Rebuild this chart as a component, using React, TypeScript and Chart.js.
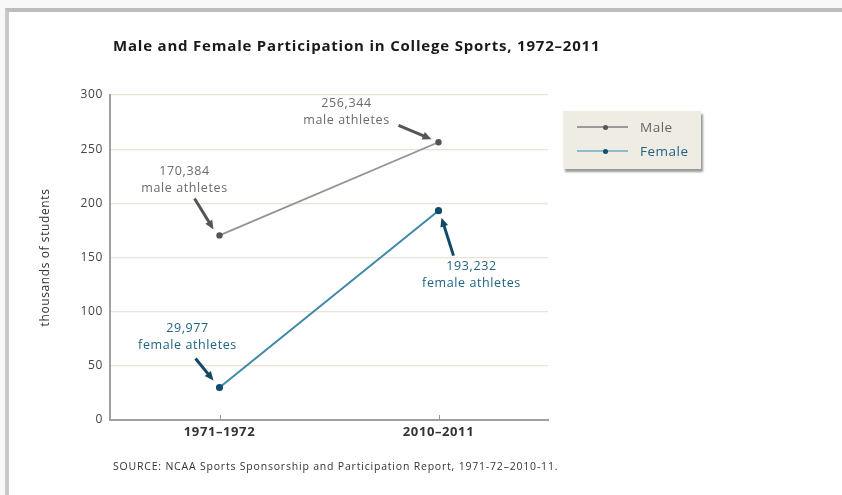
import React, { useEffect, useRef } from "react";
import { Chart, registerables } from "chart.js";
Chart.register(...registerables);

const categories = ["1971–1972", "2010–2011"];
const maleValues = [170.384, 256.344];
const femaleValues = [29.977, 193.232];
const yTicks = [0, 50, 100, 150, 200, 250, 300];
const titleText = "Male and Female Participation in College Sports, 1972–2011";
const sourceText = "SOURCE: NCAA Sports Sponsorship and Participation Report, 1971-72–2010-11.";
const yTitle = "thousands of students";

// annotations: dataset index, point index, label lines, text offset, arrow tail & head offsets
const annotations = [
  { ds: 0, i: 0, lines: ["170,384", "male athletes"], tx: -35, ty: -64, ax: -25, ay: -37, bx: -6, by: -6, color: "#6b6b6b", arrow: "#555" },
  { ds: 0, i: 1, lines: ["256,344", "male athletes"], tx: -92, ty: -39, ax: -40, ay: -17, bx: -7, by: -3, color: "#6b6b6b", arrow: "#555" },
  { ds: 1, i: 0, lines: ["29,977", "female athletes"], tx: -32, ty: -59, ax: -24, ay: -29, bx: -6, by: -7, color: "#1f6283", arrow: "#124a66" },
  { ds: 1, i: 1, lines: ["193,232", "female athletes"], tx: 33, ty: 56, ax: 15, ay: 45, bx: 3, by: 7, color: "#1f6283", arrow: "#124a66" },
];

const FONT = "'Open Sans', 'Noto Sans', sans-serif";

const spacingPlugin = {
  id: "spacing",
  beforeDraw(chart: any) {
    chart.ctx.letterSpacing = "0.6px";
  },
};

const decorPlugin = {
  id: "decor",
  afterDraw(chart: any) {
    const ctx = chart.ctx;
    const ca = chart.chartArea;
    const xs = chart.scales.x;
    ctx.save();
    // title
    ctx.fillStyle = "#1a1a1a";
    ctx.font = `bold 15px ${FONT}`;
    ctx.letterSpacing = "0.8px";
    ctx.textAlign = "left";
    ctx.textBaseline = "middle";
    ctx.fillText(titleText, ca.left + 3, 47);
    // source
    ctx.fillStyle = "#333";
    ctx.font = `10.5px ${FONT}`;
    ctx.letterSpacing = "0.8px";
    ctx.fillText(sourceText, ca.left + 3, 467);
    ctx.letterSpacing = "0.6px";
    // x tick marks inside
    ctx.strokeStyle = "#999";
    ctx.lineWidth = 1;
    categories.forEach((_, i) => {
      const x = Math.round(xs.getPixelForValue(i)) + 0.5;
      ctx.beginPath();
      ctx.moveTo(x, ca.bottom);
      ctx.lineTo(x, ca.bottom - 5);
      ctx.stroke();
    });
    // annotations
    annotations.forEach((a) => {
      const el = chart.getDatasetMeta(a.ds).data[a.i];
      const px = el.x, py = el.y;
      ctx.fillStyle = a.color;
      ctx.font = `12.5px ${FONT}`;
      ctx.textAlign = "center";
      a.lines.forEach((ln, k) => ctx.fillText(ln, px + a.tx, py + a.ty + k * 17));
      // arrow
      const x1 = px + a.ax, y1 = py + a.ay, x2 = px + a.bx, y2 = py + a.by;
      const ang = Math.atan2(y2 - y1, x2 - x1);
      ctx.strokeStyle = a.arrow;
      ctx.fillStyle = a.arrow;
      ctx.lineWidth = 3;
      ctx.beginPath();
      ctx.moveTo(x1, y1);
      ctx.lineTo(x2 - 6 * Math.cos(ang), y2 - 6 * Math.sin(ang));
      ctx.stroke();
      ctx.beginPath();
      ctx.moveTo(x2, y2);
      ctx.lineTo(x2 - 9 * Math.cos(ang) + 4 * Math.sin(ang), y2 - 9 * Math.sin(ang) - 4 * Math.cos(ang));
      ctx.lineTo(x2 - 9 * Math.cos(ang) - 4 * Math.sin(ang), y2 - 9 * Math.sin(ang) + 4 * Math.cos(ang));
      ctx.closePath();
      ctx.fill();
    });
    ctx.restore();
  },
};

export default function App() {
  const ref = useRef<HTMLCanvasElement>(null);
  useEffect(() => {
    if (!ref.current) return;
    const chart = new Chart(ref.current, {
      type: "line",
      data: {
        labels: categories,
        datasets: [
          {
            label: "Male",
            data: maleValues,
            borderColor: "#939393",
            backgroundColor: "#555",
            pointBackgroundColor: "#555",
            pointBorderColor: "#555",
            borderWidth: 1.8,
            pointRadius: 2.3,
          },
          {
            label: "Female",
            data: femaleValues,
            borderColor: "#3f88a8",
            backgroundColor: "#0f4d6b",
            pointBackgroundColor: "#0f4d6b",
            pointBorderColor: "#0f4d6b",
            borderWidth: 2,
            pointRadius: 2.6,
          },
        ],
      },
      options: {
        animation: false,
        responsive: false,
        layout: { padding: { left: 38, right: 294, top: 95, bottom: 45 } },
        plugins: { legend: { display: false }, title: { display: false }, tooltip: { enabled: false } },
        scales: {
          x: {
            offset: true,
            grid: { display: false, drawTicks: false },
            border: { color: "#a0a0a0", width: 2 },
            ticks: { color: "#333", font: { family: FONT, size: 13, weight: "bold" }, padding: 4 },
            afterFit: (s: any) => { s.height = 30; },
          },
          y: {
            min: 0,
            max: 300,
            afterBuildTicks: (s: any) => { s.ticks = yTicks.map((v) => ({ value: v })); },
            grid: {
              color: (c: any) => (c.tick && c.tick.value === 0 ? "rgba(0,0,0,0)" : "#ebe4d6"),
              lineWidth: 1.2,
              drawTicks: false,
            },
            border: { color: "#a0a0a0", width: 2 },
            ticks: { color: "#444", font: { family: FONT, size: 12 }, padding: 7 },
            title: { display: true, text: yTitle, color: "#333", font: { family: FONT, size: 12 }, padding: 0 },
            afterFit: (s: any) => { s.width = 72; },
          },
        },
      },
      plugins: [spacingPlugin, decorPlugin],
    });
    return () => chart.destroy();
  }, []);

  const legendItem = (label: string, line: string, dot: string, text: string, top: number) => (
    <div style={{ position: "absolute", left: 14, top, display: "flex", alignItems: "center" }}>
      <div style={{ position: "relative", width: 51, height: 10 }}>
        <div style={{ position: "absolute", left: 0, right: 0, top: 4, height: 2, background: line }} />
        <div style={{ position: "absolute", left: 26, top: 2.5, width: 5, height: 5, borderRadius: "50%", background: dot }} />
      </div>
      <span style={{ marginLeft: 12, fontFamily: FONT, fontSize: 13.5, letterSpacing: "0.5px", color: text }}>{label}</span>
    </div>
  );

  return (
    <div style={{ position: "fixed", left: 0, top: 0, width: 842, height: 495, background: "#f8f8f8", overflow: "hidden" }}>
      <div style={{ position: "absolute", left: 5, top: 8, right: 0, bottom: 0, background: "#fff", borderTop: "4px solid #bdbdbd", borderLeft: "4px solid #c8c8c8" }} />
      <canvas ref={ref} width={842} height={495} style={{ position: "absolute", left: 0, top: 0 }} />
      <div style={{ position: "absolute", left: 563, top: 111, width: 138, height: 58, background: "#efece3", boxShadow: "2px 3px 2px #9a9a9a" }}>
        {legendItem("Male", "#9a9a9a", "#555", "#666", 7)}
        {legendItem("Female", "#8fbccc", "#0f4d6b", "#1f6283", 31)}
      </div>
    </div>
  );
}
